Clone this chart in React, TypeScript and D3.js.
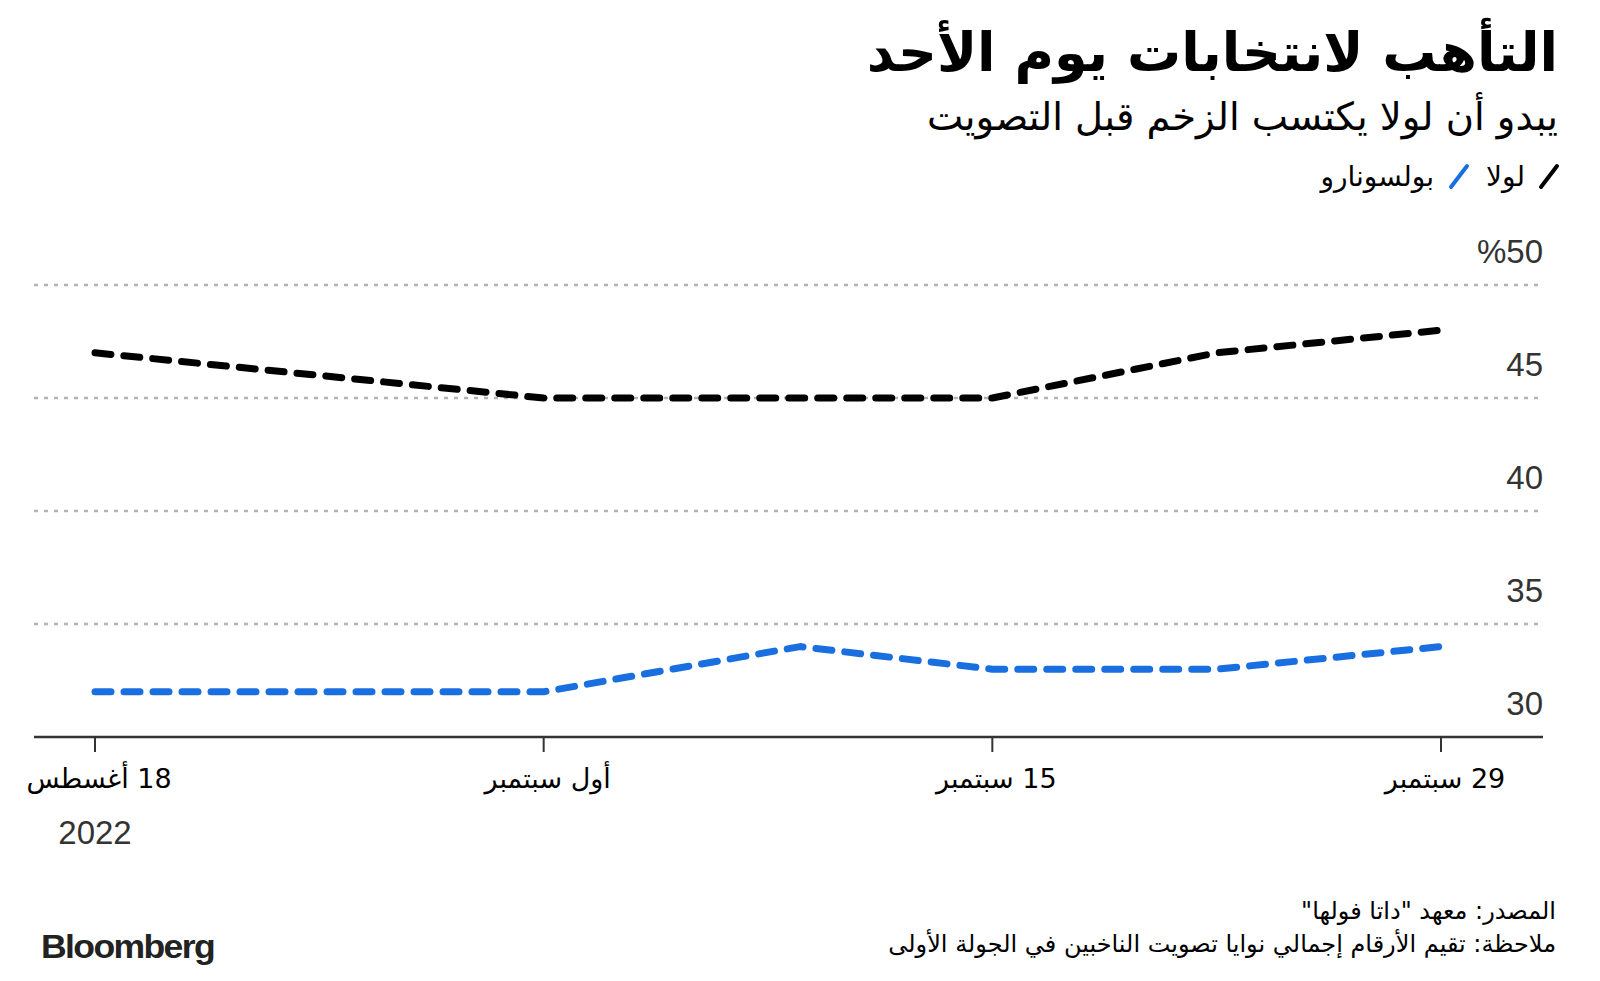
import React from "react";
import * as d3 from "d3";

// ---- data ----
const pollDates = ["2022-08-18", "2022-09-01", "2022-09-09", "2022-09-15", "2022-09-22", "2022-09-29"];
const lulaValues = [47, 45, 45, 45, 47, 48];
const bolsonaroValues = [32, 32, 34, 33, 33, 34];
const seriesNames = ["لولا", "بولسونارو"];
const seriesColors = ["#000000", "#1a6fe0"];
const xTickDates = ["2022-08-18", "2022-09-01", "2022-09-15", "2022-09-29"];
const xTickLabels = ["18 أغسطس", "أول سبتمبر", "15 سبتمبر", "29 سبتمبر"];
const yTicks = [30, 35, 40, 45, 50];
const yTickLabels = ["30", "35", "40", "45", "%50"];
const title = "التأهب لانتخابات يوم الأحد";
const subtitle = "يبدو أن لولا يكتسب الزخم قبل التصويت";
const yearLabel = "2022";
const sourceText = 'المصدر:  معهد "داتا فولها"';
const noteText = "ملاحظة: تقيم الأرقام إجمالي نوايا تصويت الناخبين في الجولة الأولى";

const W = 1600;
const H = 981;
const AR = "'DejaVu Sans', 'Noto Sans', sans-serif";
const NUM = "'Liberation Sans', Arial, sans-serif";

export default function App() {
  const parse = d3.timeParse("%Y-%m-%d");
  const dates = pollDates.map((d) => parse(d) as Date);
  const x = d3
    .scaleTime()
    .domain([parse(xTickDates[0]) as Date, parse(xTickDates[xTickDates.length - 1]) as Date])
    .range([95, 1441]);
  const y = d3.scaleLinear().domain([30, 50]).range([737, 285]);

  const line = d3
    .line<number>()
    .x((_, i) => x(dates[i]))
    .y((v) => y(v))
    .curve(d3.curveLinear);

  const series = [lulaValues, bolsonaroValues];
  const rtl: React.CSSProperties = { direction: "rtl", unicodeBidi: "embed" } as React.CSSProperties;

  return (
    <svg
      width={W}
      height={H}
      viewBox={`0 0 ${W} ${H}`}
      style={{ position: "absolute", left: 0, top: 0, background: "#fff" }}
    >
      <rect x={0} y={0} width={W} height={H} fill="#fff" />
      {/* title */}
      <text x={1558} y={71} fontFamily={AR} fontWeight={700} fontSize={54} fill="#000" textAnchor="start" style={rtl}>
        {title}
      </text>
      <text x={1558} y={130} fontFamily={AR} fontSize={38.5} fill="#000" textAnchor="start" style={rtl}>
        {subtitle}
      </text>

      {/* legend */}
      <g>
        <line x1={1541} y1={187} x2={1557} y2={166} stroke={seriesColors[0]} strokeWidth={4} strokeLinecap="round" />
        <text x={1525} y={186} fontFamily={AR} fontSize={28} fill="#000" textAnchor="start" style={rtl}>
          {seriesNames[0]}
        </text>
        <line x1={1451} y1={187} x2={1467} y2={166} stroke={seriesColors[1]} strokeWidth={4} strokeLinecap="round" />
        <text x={1434} y={186} fontFamily={AR} fontSize={28} fill="#000" textAnchor="start" style={rtl}>
          {seriesNames[1]}
        </text>
      </g>

      {/* gridlines */}
      {yTicks
        .filter((t) => t !== 30)
        .map((t) => (
          <line key={t} x1={34} x2={1543} y1={y(t)} y2={y(t)} stroke="#b3b3b3" strokeWidth={2.5} strokeDasharray="4 6" />
        ))}
      {yTicks.map((t, i) => (
        <text key={"yl" + t} x={1543} y={y(t) - 22} fontFamily={NUM} fontSize={33} fill="#333" textAnchor="end">
          {yTickLabels[i]}
        </text>
      ))}

      {/* x axis */}
      <line x1={34} x2={1543} y1={y(30)} y2={y(30)} stroke="#333" strokeWidth={2.5} />
      {xTickDates.map((d, i) => {
        const xx = x(parse(d) as Date);
        return (
          <g key={d}>
            <line x1={xx} x2={xx} y1={y(30)} y2={y(30) + 15} stroke="#333" strokeWidth={2} />
            <text x={xx + 4} y={788} fontFamily={AR} fontSize={27} fill="#000" textAnchor="middle" style={rtl}>
              {xTickLabels[i]}
            </text>
          </g>
        );
      })}
      <text x={x(parse(xTickDates[0]) as Date)} y={844} fontFamily={NUM} fontSize={33} fill="#333" textAnchor="middle">
        {yearLabel}
      </text>

      {/* lines */}
      {series.map((vals, i) => (
        <path
          key={i}
          d={line(vals) || ""}
          fill="none"
          stroke={seriesColors[i]}
          strokeWidth={7}
          strokeDasharray="16 13"
          strokeLinecap="round"
          strokeLinejoin="round"
        />
      ))}

      {/* footer */}
      <text x={1556} y={919} fontFamily={AR} fontSize={24} fill="#000" textAnchor="start" style={rtl}>
        {sourceText}
      </text>
      <text x={1556} y={952} fontFamily={AR} fontSize={24} fill="#000" textAnchor="start" style={rtl}>
        {noteText}
      </text>
      <text x={41} y={958} fontFamily={NUM} fontWeight={700} fontSize={33} fill="#222" letterSpacing={-1.5} textLength={173} lengthAdjust="spacingAndGlyphs">
        Bloomberg
      </text>
    </svg>
  );
}
